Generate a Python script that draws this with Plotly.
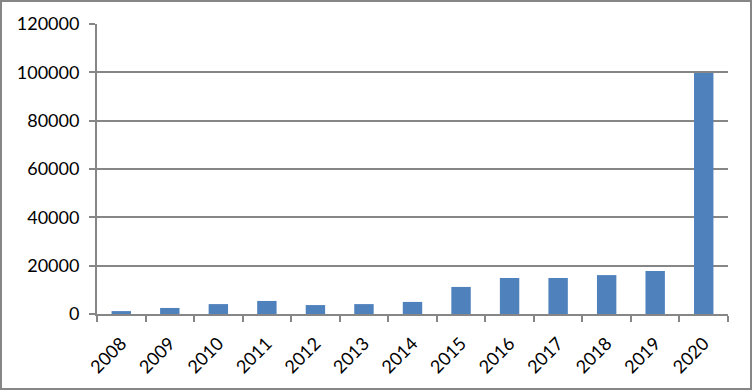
import plotly.graph_objects as go

years = ["2008", "2009", "2010", "2011", "2012", "2013", "2014",
         "2015", "2016", "2017", "2018", "2019", "2020"]
values = [1200, 2500, 4100, 5400, 3700, 4100, 5000,
          11200, 14900, 14900, 16100, 17800, 99700]
y_ticks = [0, 20000, 40000, 60000, 80000, 100000, 120000]

W, H = 752, 390
L, R, T, B = 97, 24, 24, 76
pw, ph = W - L - R, H - T - B

fig = go.Figure(go.Bar(x=years, y=values, marker=dict(color="#4F81BD", line=dict(width=0))))

fig.update_layout(
    width=W, height=H,
    margin=dict(l=L, r=R, t=T, b=B, pad=0),
    plot_bgcolor="white", paper_bgcolor="white",
    bargap=0.6, showlegend=False,
    font=dict(family="Lato, Open Sans, sans-serif", size=18, color="#000000"),
    xaxis=dict(type="category", tickangle=-45, showline=True, linecolor="#868686", linewidth=2,
               ticks="outside", tickson="boundaries", ticklen=6, tickcolor="#868686", tickwidth=2,
               showgrid=False, zeroline=False, ticklabelstandoff=10),
    yaxis=dict(range=[0, 120000], tickvals=y_ticks, showline=True, linecolor="#868686", linewidth=2,
               ticks="outside", ticklen=6, tickcolor="#868686", tickwidth=2,
               showgrid=True, gridcolor="#868686", gridwidth=2, zeroline=False,
               tickformat="d", ticklabelstandoff=6),
    shapes=[dict(type="rect", xref="paper", yref="paper",
                 x0=(1 - L) / pw, x1=(W - 1 - L) / pw,
                 y0=(T + ph - (H - 1)) / ph, y1=(T + ph - 1) / ph,
                 line=dict(color="#868686", width=2), layer="below")],
)

fig.write_html("out.html")
